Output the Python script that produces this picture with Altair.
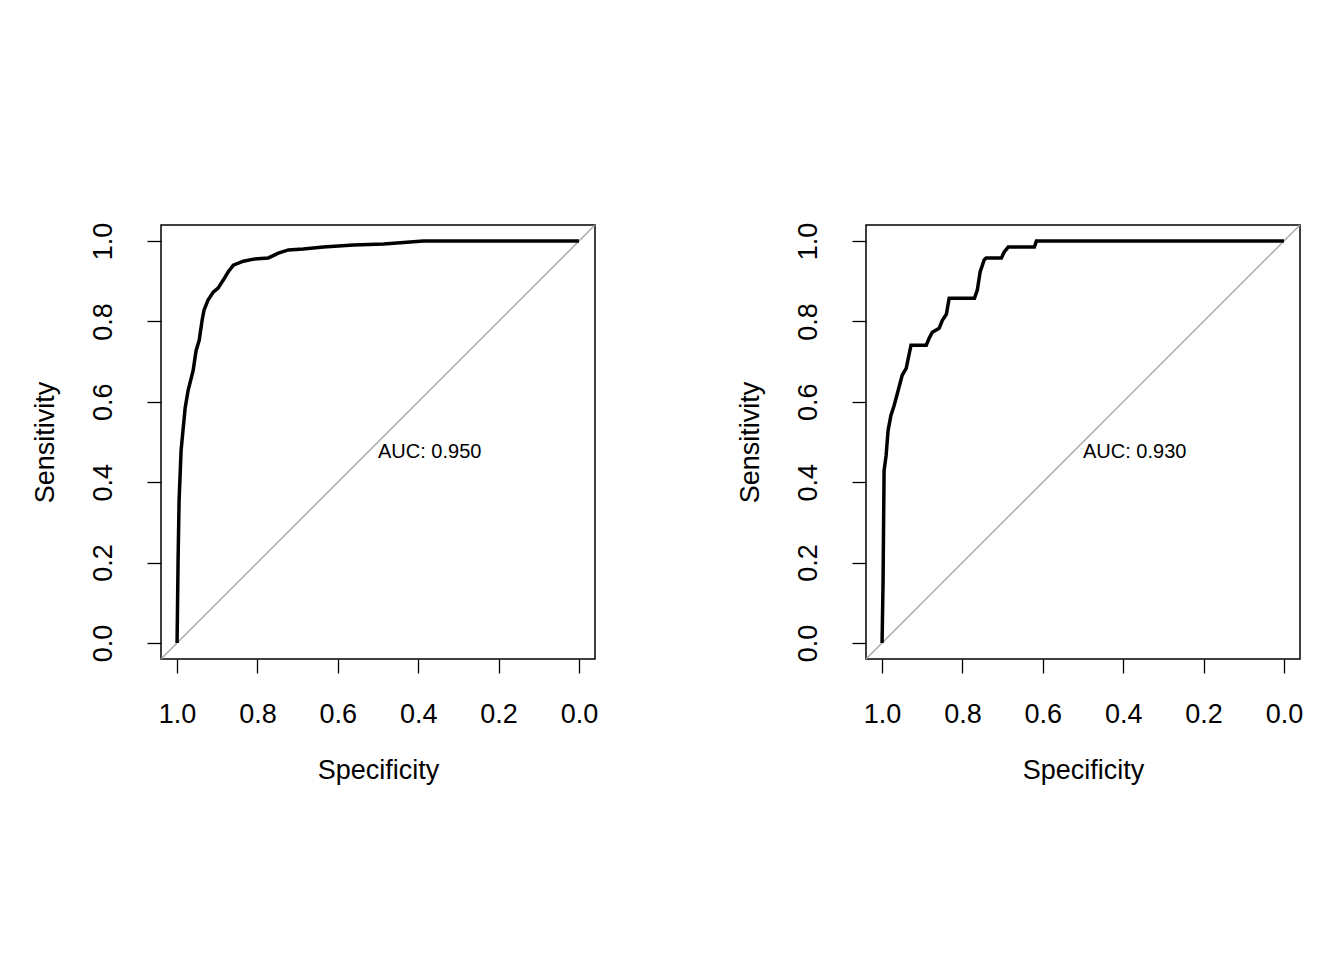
import altair as alt
import pandas as pd

spec1 = [1.0, 0.9975, 0.995, 0.99, 0.98, 0.9726, 0.96, 0.9526, 0.945, 0.9377, 0.933, 0.923, 0.91, 0.898, 0.885, 0.873, 0.86, 0.835, 0.81, 0.773, 0.748, 0.723, 0.686, 0.636, 0.561, 0.486, 0.387, 0.0]
sens1 = [0.0, 0.204, 0.354, 0.479, 0.584, 0.628, 0.678, 0.728, 0.753, 0.803, 0.828, 0.853, 0.873, 0.883, 0.903, 0.923, 0.940, 0.950, 0.955, 0.958, 0.970, 0.978, 0.980, 0.985, 0.990, 0.993, 1.0, 1.0]
spec2 = [1.0, 0.9975, 0.995, 0.99, 0.985, 0.978, 0.97, 0.96, 0.95, 0.94, 0.928, 0.89, 0.883, 0.875, 0.858, 0.85, 0.84, 0.833, 0.77, 0.763, 0.756, 0.746, 0.741, 0.703, 0.696, 0.686, 0.621, 0.616, 0.0]
sens2 = [0.0, 0.155, 0.429, 0.466, 0.529, 0.566, 0.591, 0.628, 0.666, 0.683, 0.741, 0.741, 0.758, 0.773, 0.783, 0.803, 0.818, 0.858, 0.858, 0.878, 0.923, 0.953, 0.958, 0.958, 0.973, 0.985, 0.985, 1.0, 1.0]
auc_labels = ["AUC: 0.950", "AUC: 0.930"]
ticks = [0.0, 0.2, 0.4, 0.6, 0.8, 1.0]

FONT = "Liberation Sans"

def panel(spec, sens, label):
    df = pd.DataFrame({"spec": spec, "sens": sens, "o": range(len(spec))})
    xs = alt.Scale(domain=[-0.04, 1.04], reverse=True, nice=False, zero=False)
    ys = alt.Scale(domain=[-0.04, 1.04], nice=False, zero=False)
    xax = alt.Axis(values=ticks, format=".1f", title="Specificity", grid=False, domain=False,
                   tickSize=14, tickWidth=1.3, tickColor="black", labelFontSize=27, labelPadding=28,
                   titleFontSize=27, titleFontWeight="normal", titlePadding=30, labelColor="black",
                   labelFont=FONT, titleFont=FONT, labelFlush=False)
    yax = alt.Axis(values=ticks, format=".1f", title="Sensitivity", grid=False, domain=False,
                   tickSize=14, tickWidth=1.3, tickColor="black", labelFontSize=27, labelPadding=30,
                   labelAngle=-90, labelAlign="center", labelBaseline="bottom",
                   titleFontSize=27, titleFontWeight="normal", titlePadding=30, labelColor="black",
                   labelFont=FONT, titleFont=FONT, labelFlush=False)
    diag = pd.DataFrame({"spec": [1.04, -0.04], "sens": [-0.04, 1.04]})
    d = alt.Chart(diag).mark_line(color="#aaaaaa", strokeWidth=1.5, clip=True).encode(
        x=alt.X("spec:Q", scale=xs, axis=xax), y=alt.Y("sens:Q", scale=ys, axis=yax))
    c = alt.Chart(df).mark_line(color="black", strokeWidth=3.5, interpolate="linear").encode(
        x=alt.X("spec:Q", scale=xs), y=alt.Y("sens:Q", scale=ys), order="o:Q")
    t = alt.Chart(pd.DataFrame({"spec": [0.5], "sens": [0.476], "t": [label]})).mark_text(
        align="left", baseline="middle", fontSize=20, font=FONT, color="black").encode(
        x=alt.X("spec:Q", scale=xs), y=alt.Y("sens:Q", scale=ys), text="t:N")
    return alt.layer(d, c, t).properties(width=434, height=434)

chart = alt.hconcat(panel(spec1, sens1, auc_labels[0]), panel(spec2, sens2, auc_labels[1]),
                    spacing=136).properties(padding={"left": 22, "top": 213, "right": 10, "bottom": 10}
).configure(background="white", view=alt.ViewConfig(stroke="black", strokeWidth=1.5))

chart.save("out.html", embed_options={"renderer": "svg", "actions": False})
